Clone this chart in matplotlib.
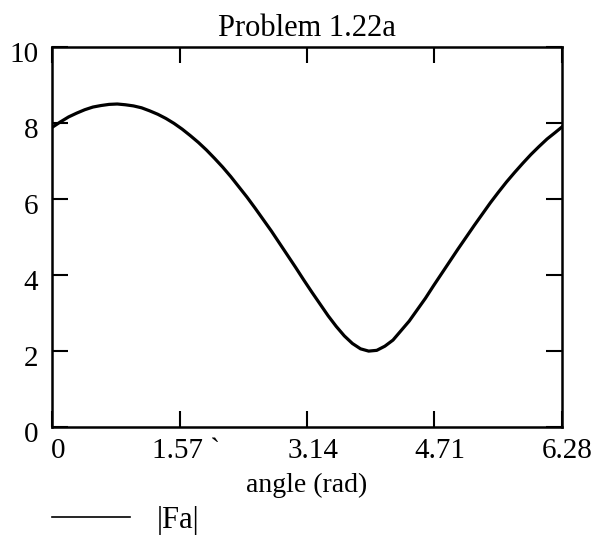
import numpy as np
import matplotlib
matplotlib.use('Agg')
import matplotlib.pyplot as plt
from matplotlib.lines import Line2D
from matplotlib.transforms import ScaledTranslation

plt.rcParams['font.family'] = ['Liberation Serif', 'DejaVu Serif']

# |Fa|
angle = [0.0, 0.1, 0.2, 0.3, 0.4, 0.5, 0.6, 0.7, 0.8, 0.9, 1.0, 1.1, 1.2, 1.3,
         1.4, 1.5, 1.6, 1.7, 1.8, 1.9, 2.0, 2.1, 2.2, 2.3, 2.4, 2.5, 2.6, 2.7,
         2.8, 2.9, 3.0, 3.1, 3.2, 3.3, 3.4, 3.5, 3.6, 3.7, 3.8, 3.9, 4.0, 4.1,
         4.2, 4.3, 4.4, 4.5, 4.6, 4.7, 4.8, 4.9, 5.0, 5.1, 5.2, 5.3, 5.4, 5.5,
         5.6, 5.7, 5.8, 5.9, 6.0, 6.1, 6.2, 6.28]
fa = [7.89, 8.03, 8.16, 8.26, 8.35, 8.42, 8.46, 8.49, 8.50, 8.48, 8.45, 8.40,
      8.32, 8.23, 8.12, 7.99, 7.84, 7.67, 7.49, 7.29, 7.07, 6.84, 6.59, 6.32,
      6.05, 5.76, 5.46, 5.16, 4.84, 4.52, 4.20, 3.87, 3.55, 3.24, 2.93, 2.65,
      2.40, 2.20, 2.06, 2.00, 2.02, 2.13, 2.29, 2.54, 2.79, 3.09, 3.39, 3.72,
      4.04, 4.36, 4.68, 4.99, 5.30, 5.60, 5.90, 6.18, 6.45, 6.70, 6.94, 7.17,
      7.38, 7.58, 7.75, 7.89]

x_ticks = [0, 1.57, 3.14, 4.71, 6.28]
x_labels = ['0', '1.57 `', '3.14', '4.71', '6.28']
y_ticks = [0, 2, 4, 6, 8, 10]

fig = plt.figure(figsize=(5.95, 5.4), dpi=100)
ax = fig.add_axes([0.088, 0.209, 0.856, 0.704])

ax.plot(angle, fa, color='black', lw=2.3, solid_joinstyle='round')
ax.set_xlim(0, 6.28)
ax.set_ylim(0, 10)
ax.set_xticks(x_ticks)
ax.set_xticklabels(x_labels)
ax.set_yticks(y_ticks)
for s in ax.spines.values():
    s.set_linewidth(1.8)
ax.tick_params(direction='in', top=True, right=True, length=11.5, width=1.5,
               labelsize=21)
ax.tick_params(axis='x', pad=8)
ax.tick_params(axis='y', pad=10)

# labels sit a little off their ticks in the original
for lab in ax.get_xticklabels():
    lab.set_transform(lab.get_transform() + ScaledTranslation(0.06, 0, fig.dpi_scale_trans))
for lab in ax.get_yticklabels():
    lab.set_transform(lab.get_transform() + ScaledTranslation(0, -0.05, fig.dpi_scale_trans))

ax.set_title('Problem 1.22a', fontsize=22, pad=8)
ax.set_xlabel('angle (rad)', fontsize=20, labelpad=6)

handle = Line2D([], [], color='black', lw=1.2)
ax.legend([handle], ['|Fa|'], loc='center left', bbox_to_anchor=(0.087, 0.036),
          bbox_transform=fig.transFigure, frameon=False, fontsize=22,
          borderpad=0, borderaxespad=0, handlelength=2.55, handletextpad=0.9)

fig.savefig('out.png', dpi=100)
